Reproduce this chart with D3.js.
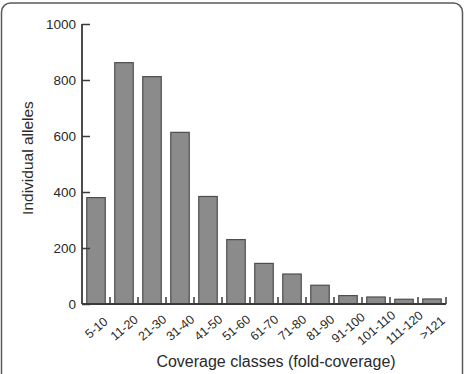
<!DOCTYPE html>
<html>
<head>
<meta charset="utf-8">
<script src="https://cdn.jsdelivr.net/npm/d3@7"></script>
<style>
  body { margin: 0; background: #fff; }
  svg { display: block; font-family: "Liberation Sans", Arial, sans-serif; }
</style>
</head>
<body>
<div class="main_contain"></div>
<script>
// coverage classes and allele counts
var classes = ["5-10", "11-20", "21-30", "31-40", "41-50", "51-60", "61-70",
               "71-80", "81-90", "91-100", "101-110", "111-120", ">121"];
var alleles = [380, 862, 812, 613, 384, 230, 145, 107, 67, 30, 25, 17, 18];
var yTicks = [0, 200, 400, 600, 800, 1000];

function drawCoverageChart(container){
  var svg_width = 465;
  var svg_height = 374;
  var margins = { top: 24, bottom: 70, right: 19, left: 82 };

  var height = svg_height - margins.top - margins.bottom;
  var width = svg_width - margins.left - margins.right;

  var svg = d3.select(container)
              .append("svg")
              .attr("width", svg_width)
              .attr("height", svg_height);

  // rounded frame around the figure
  svg.append("rect")
     .attr("x", 1.5)
     .attr("y", 3)
     .attr("width", 461)
     .attr("height", 400)
     .attr("rx", 9)
     .style("fill", "none")
     .style("stroke", "#5a5a5a")
     .style("stroke-width", 1.5);

  var svg_g = svg.append("g")
                 .attr("transform", "translate(" + margins.left + "," + margins.top + ")");

  var data = classes.map((c, i) => ({cls: c, n: alleles[i]}));

  var x = d3.scaleBand()
            .domain(classes)
            .range([0, width])
            .paddingInner(0.34)
            .paddingOuter(0.17);

  var y = d3.scaleLinear()
            .domain([0, 1000])
            .range([height, 0]);

  // bars
  svg_g.selectAll("rect.bar")
      .data(data)
      .enter()
      .append("rect")
      .attr("class", "bar")
      .attr("x", d => x(d.cls))
      .attr("y", d => y(d.n))
      .attr("width", x.bandwidth())
      .attr("height", d => height - y(d.n))
      .style("fill", "#8b8b8b")
      .style("stroke", "#4d4d4d")
      .style("stroke-width", 1.2);

  // y axis, ticks point inward
  var yAxis = d3.axisRight(y)
                .tickValues(yTicks)
                .tickSize(8)
                .tickFormat("");

  var yg = svg_g.append("g").attr("class", "y axis").call(yAxis);
  yg.select(".domain").remove();
  yg.selectAll("line").style("stroke", "#3a3a3a").style("stroke-width", 1.5);

  svg_g.append("line")
      .attr("x1", 0).attr("x2", 0)
      .attr("y1", y(1000)).attr("y2", height)
      .style("stroke", "#3a3a3a")
      .style("stroke-width", 1.8);

  svg_g.selectAll("text.ylab")
      .data(yTicks)
      .enter()
      .append("text")
      .attr("class", "ylab")
      .attr("x", -6)
      .attr("y", d => y(d))
      .attr("dy", "0.36em")
      .attr("text-anchor", "end")
      .style("font-size", "13.5px")
      .style("fill", "#2a2a2a")
      .text(d => d);

  // x axis with separators between the bars
  svg_g.append("line")
      .attr("x1", 0).attr("x2", width)
      .attr("y1", height).attr("y2", height)
      .style("stroke", "#3a3a3a")
      .style("stroke-width", 1.8);

  var step = x.step();
  svg_g.selectAll("line.xtick")
      .data(classes)
      .enter()
      .append("line")
      .attr("class", "xtick")
      .attr("x1", d => x(d) + x.bandwidth() + (step - x.bandwidth()) / 2)
      .attr("x2", d => x(d) + x.bandwidth() + (step - x.bandwidth()) / 2)
      .attr("y1", height)
      .attr("y2", height - 7)
      .style("stroke", "#3a3a3a")
      .style("stroke-width", 1.5);

  // labels centred under each bar, tilted 40 degrees
  svg_g.selectAll("text.xlab")
      .data(classes)
      .enter()
      .append("text")
      .attr("class", "xlab")
      .attr("transform", d => "translate(" + (x(d) + x.bandwidth() / 2 + 3) + "," + (height + 27) + ") rotate(-40)")
      .attr("text-anchor", "middle")
      .style("font-size", "12.5px")
      .style("fill", "#2a2a2a")
      .text(d => d);

  // axis titles
  svg.append("text")
     .attr("x", 276)
     .attr("y", 367)
     .attr("text-anchor", "middle")
     .style("font-size", "16px")
     .style("fill", "#2a2a2a")
     .text("Coverage classes (fold-coverage)");

  svg.append("text")
     .attr("transform", "translate(33,158) rotate(-90)")
     .attr("text-anchor", "middle")
     .style("font-size", "15.5px")
     .style("fill", "#2a2a2a")
     .text("Individual alleles");
}

drawCoverageChart(".main_contain");
</script>
</body>
</html>
